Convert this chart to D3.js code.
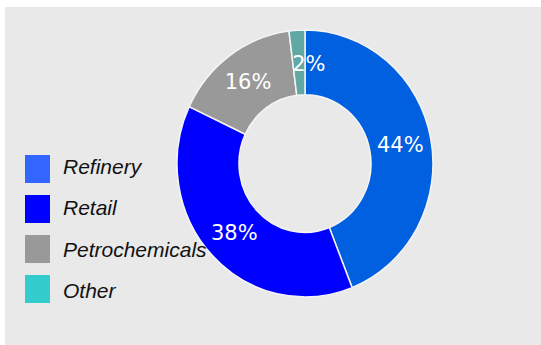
<!DOCTYPE html>
<html>
<head>
<meta charset="utf-8">
<script src="https://cdn.jsdelivr.net/npm/d3@7/dist/d3.min.js"></script>
<style>
  html, body { margin: 0; padding: 0; background: #ffffff; }
  svg { display: block; }
</style>
</head>
<body>
<svg id="chart" width="541" height="345"></svg>
<script>
// Segment shares (percent), drawn clockwise from 12 o'clock
const segments = ["Refinery", "Retail", "Petrochemicals", "Other"];
const shares = [44, 38, 16, 2];
const sliceColors = ["#0060df", "#0000ff", "#999999", "#5fa8a4"];
const legendColors = ["#3366ff", "#0000ff", "#999999", "#33cccc"];

const svg = d3.select("#chart");
const W = 541, H = 345;

// background panel
svg.append("rect")
  .attr("x", 5).attr("y", 7)
  .attr("width", W - 5).attr("height", H - 7)
  .attr("fill", "#e9e9e9");

const data = segments.map((name, i) => ({ name, value: shares[i] }));

const pie = d3.pie()
  .value(d => d.value)
  .sort(null)
  .startAngle(0)
  .endAngle(2 * Math.PI);

const outerR = 128, innerR = 66;
const arc = d3.arc().innerRadius(innerR).outerRadius(outerR);

const color = d3.scaleOrdinal().domain(segments).range(sliceColors);

// donut is slightly taller than wide
const g = svg.append("g")
  .attr("transform", "translate(305,163.5) scale(1,1.043)");

const arcs = pie(data);

g.selectAll("path.slice")
  .data(arcs)
  .join("path")
  .attr("class", "slice")
  .attr("d", arc)
  .attr("fill", d => color(d.data.name))
  .attr("stroke", "#f4f4f4")
  .attr("stroke-width", 1.5);

const fmt = d => d3.format(".0%")(d.value / d3.sum(shares));

// the thin "Other" slice label is nudged right so it stays readable
svg.append("g")
  .attr("transform", "translate(305,163.5)")
  .selectAll("text.pct")
  .data(arcs)
  .join("text")
  .attr("class", "pct")
  .attr("x", d => arc.centroid(d)[0] + (d.data.name === "Other" ? 10 : 0))
  .attr("y", d => arc.centroid(d)[1] * 1.043 + (d.data.name === "Other" ? 1 : 0))
  .attr("dy", "0.36em")
  .attr("text-anchor", "middle")
  .attr("font-family", "DejaVu Sans, sans-serif")
  .attr("font-size", 21)
  .attr("fill", "#ffffff")
  .text(fmt);

// legend
const legend = svg.append("g").attr("transform", "translate(25,155)");
const item = legend.selectAll("g.item")
  .data(segments)
  .join("g")
  .attr("class", "item")
  .attr("transform", (d, i) => `translate(0,${i * 40})`);

item.append("rect")
  .attr("width", 25)
  .attr("height", 28)
  .attr("fill", (d, i) => legendColors[i]);

item.append("text")
  .attr("x", 38)
  .attr("y", 19 + 0)
  .attr("dy", (d, i) => i * 1.3)
  .attr("font-family", "Liberation Sans, Arial, sans-serif")
  .attr("font-style", "italic")
  .attr("font-size", 21)
  .attr("fill", "#111111")
  .text(d => d);
</script>
</body>
</html>
